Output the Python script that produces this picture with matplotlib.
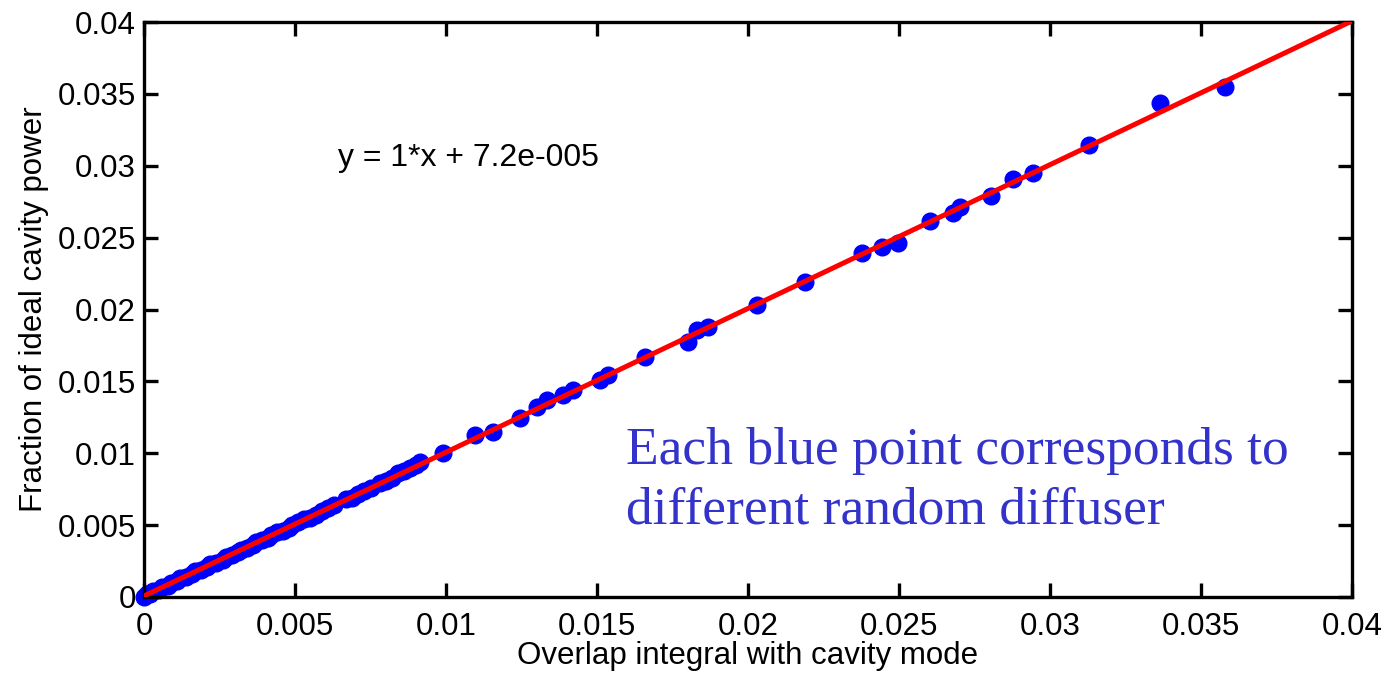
import matplotlib
matplotlib.use("Agg")
import matplotlib.pyplot as plt

# Data: overlap integral (x) vs fraction of ideal cavity power (y)
overlap = [0.0000, 0.0001, 0.0002, 0.0003, 0.0005, 0.0006, 0.0008, 0.0009, 0.0011, 0.0012,
           0.0014, 0.0016, 0.0017, 0.0019, 0.0021, 0.0022, 0.0024, 0.0026, 0.0027, 0.0029,
           0.0031, 0.0032, 0.0034, 0.0036, 0.0037, 0.0039, 0.0041, 0.0042, 0.0044, 0.0046,
           0.0048, 0.0049, 0.0051, 0.0053, 0.0055, 0.0057, 0.0059, 0.0061, 0.0063, 0.0067,
           0.0069, 0.0071, 0.0073, 0.0075, 0.0078, 0.0080, 0.0082, 0.0084, 0.0086, 0.0088,
           0.0090, 0.00914, 0.0099, 0.01096, 0.01156, 0.01245, 0.01301, 0.01334, 0.01387,
           0.01421, 0.0151, 0.01536, 0.01659, 0.01801, 0.01831, 0.01868, 0.0203, 0.02189,
           0.02377, 0.02444, 0.02497, 0.02603, 0.02679, 0.02702, 0.02805, 0.02877, 0.02944,
           0.03129, 0.03364, 0.0358]
power = [0.0000, 0.0002, 0.0002, 0.0004, 0.0005, 0.0007, 0.0008, 0.0010, 0.0011, 0.0013,
         0.0014, 0.0016, 0.0018, 0.0019, 0.0021, 0.0023, 0.0024, 0.0026, 0.0028, 0.0029,
         0.0031, 0.0033, 0.0034, 0.0036, 0.0038, 0.0040, 0.0041, 0.0043, 0.0045, 0.0046,
         0.0048, 0.0050, 0.0052, 0.0054, 0.0055, 0.0057, 0.0060, 0.0062, 0.0064, 0.0068,
         0.0069, 0.0072, 0.0074, 0.0076, 0.0079, 0.0081, 0.0083, 0.0086, 0.0088, 0.0090,
         0.0092, 0.00939, 0.01002, 0.01127, 0.01148, 0.01245, 0.01322, 0.0137, 0.01405,
         0.0144, 0.0151, 0.01544, 0.0167, 0.01774, 0.01857, 0.01878, 0.02031, 0.02191,
         0.02393, 0.02435, 0.02463, 0.02616, 0.02671, 0.02713, 0.0279, 0.02908, 0.0295,
         0.03144, 0.03437, 0.03548]

fit_slope = 1.0
fit_intercept = 7.2e-5
fit_x = [0.0, 0.04]

x_ticks = [0, 0.005, 0.01, 0.015, 0.02, 0.025, 0.03, 0.035, 0.04]
x_ticklabels = ["0", "0.005", "0.01", "0.015", "0.02", "0.025", "0.03", "0.035", "0.04"]
y_ticks = [0, 0.005, 0.01, 0.015, 0.02, 0.025, 0.03, 0.035, 0.04]
y_ticklabels = ["0", "0.005", "0.01", "0.015", "0.02", "0.025", "0.03", "0.035", "0.04"]

plt.rcParams['font.family'] = ['Liberation Sans', 'DejaVu Sans']

fig = plt.figure(figsize=(13.87, 6.79), dpi=100)
ax = fig.add_axes([144/1387, 1-597/679, (1352-144)/1387, (597-22)/679])

ax.plot(overlap, power, linestyle='none', marker='o', markersize=12,
        markerfacecolor='#0000ff', markeredgecolor='#0000ff', zorder=2, clip_on=False)
fit_y = [fit_slope * v + fit_intercept for v in fit_x]
ax.plot(fit_x, fit_y, color='#ff0000', linewidth=3.6, zorder=3)

ax.set_xlim(0, 0.04)
ax.set_ylim(0, 0.04)
ax.set_xticks(x_ticks)
ax.set_xticklabels(x_ticklabels)
ax.set_yticks(y_ticks)
ax.set_yticklabels(y_ticklabels)
ax.tick_params(direction='in', length=10, width=2.4, labelsize=22.5, top=True, right=True,
               pad=6, colors='#000000')
ax.tick_params(axis='x', pad=11)
for s in ax.spines.values():
    s.set_linewidth(2.4)
    s.set_color('#000000')

ax.set_xlabel("Overlap integral with cavity mode", fontsize=22.5, labelpad=-1)
ax.set_ylabel("Fraction of ideal cavity power", fontsize=22.5, labelpad=6)

fig.text(338/1387, 1-158/679, "y = 1*x + 7.2e-005",
         fontsize=23, ha='left', va='center')
fig.text(626/1387, 1-481/679, "Each blue point corresponds to\ndifferent random diffuser",
         fontsize=38.5, family=['Liberation Serif', 'DejaVu Serif'], color='#3333cc',
         ha='left', va='center', linespacing=1.32)

fig.savefig("out.png", dpi=100)
